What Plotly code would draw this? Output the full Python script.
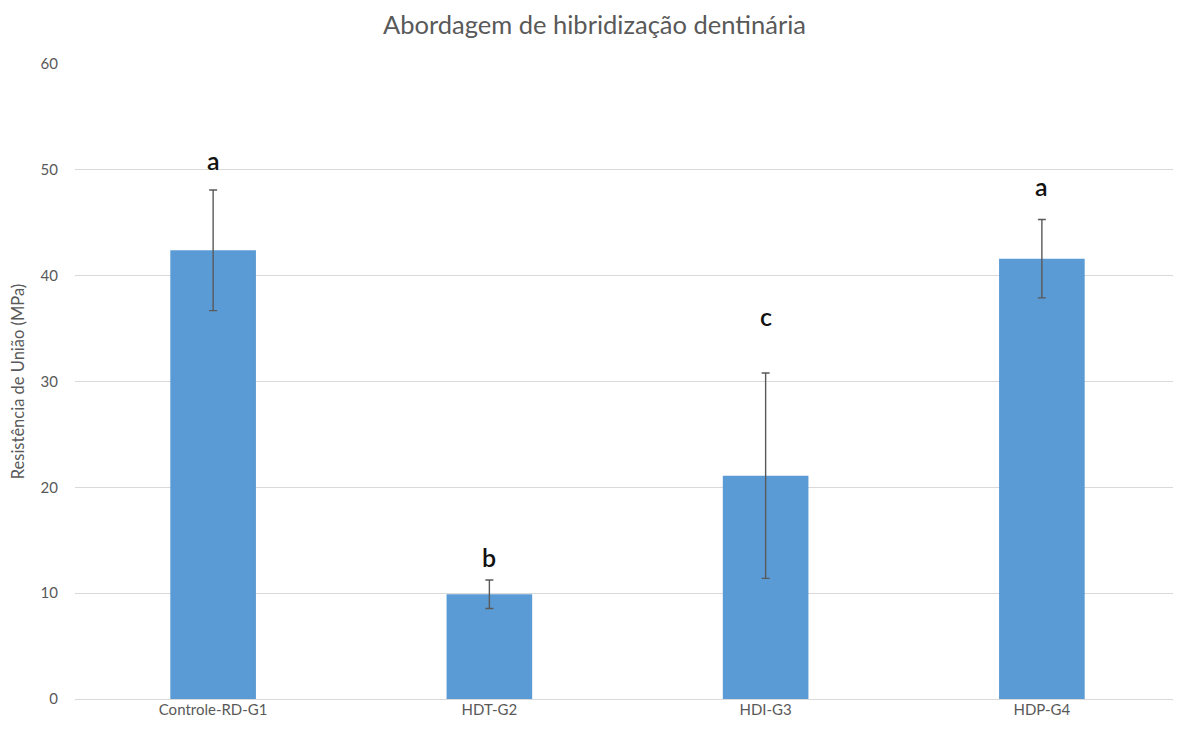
import plotly.graph_objects as go

categories = ["Controle-RD-G1", "HDT-G2", "HDI-G3", "HDP-G4"]
values = [42.4, 9.9, 21.1, 41.6]
errors = [5.7, 1.35, 9.7, 3.7]
letters = ["a", "b", "c", "a"]
letter_y = [50.9, 13.4, 36.2, 48.5]
y_ticks = [0, 10, 20, 30, 40, 50, 60]

fig = go.Figure()
fig.add_trace(go.Bar(
    x=categories, y=values,
    marker=dict(color="#5B9BD5", line=dict(width=0)),
    error_y=dict(type="data", array=errors, visible=True, color="#595959", thickness=1.4, width=4),
    width=0.31,
))
for c, l, ly in zip(categories, letters, letter_y):
    fig.add_annotation(x=c, y=ly, text=l, showarrow=False,
                       font=dict(family="Lato, sans-serif", size=25, color="#111111", weight=600))

fig.update_layout(
    width=1173, height=728,
    paper_bgcolor="white", plot_bgcolor="white",
    margin=dict(l=67, r=1, t=56, b=37),
    title=dict(text="Abordagem de hibridização dentinária", x=0.5, xanchor="center",
               y=0.977, yanchor="middle",
               font=dict(family="Lato, sans-serif", size=25.5, color="#595959")),
    font=dict(family="Lato, sans-serif", size=15, color="#595959"),
    showlegend=False,
    xaxis=dict(showgrid=False, showline=False, ticks="", tickfont=dict(size=15, color="#595959")),
    yaxis=dict(range=[0, 60], tickvals=y_ticks, showgrid=True, gridcolor="#D9D9D9", gridwidth=1,
               zeroline=True, zerolinecolor="#D9D9D9", zerolinewidth=1, showline=False,
               ticks="", ticklabelstandoff=16,
               title=dict(text="Resistência de União (MPa)", font=dict(size=16.5, color="#595959"), standoff=14),
               tickfont=dict(size=15, color="#595959")),
)
fig.write_html("out.html")
